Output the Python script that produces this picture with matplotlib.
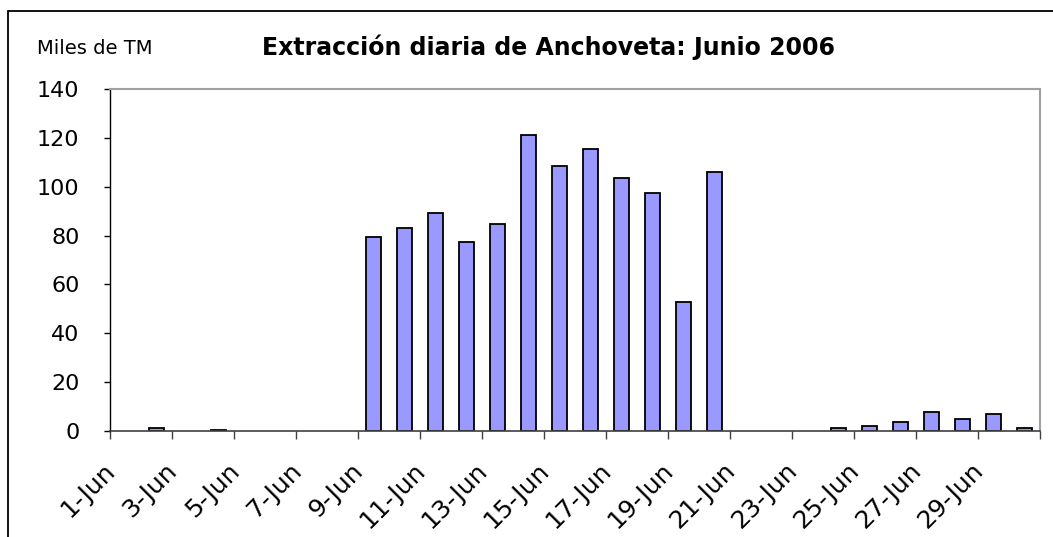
import matplotlib
matplotlib.use("Agg")
import matplotlib.pyplot as plt
from matplotlib.patches import Rectangle
from matplotlib.transforms import ScaledTranslation, blended_transform_factory

plt.rcParams['font.family'] = ['DejaVu Sans']

days = [f"{d}-Jun" for d in range(1, 31)]
values = [0, 1.4, 0, 0.6, 0, 0, 0, 0,
          79.5, 82.9, 89.1, 77.2, 84.8, 121.2, 108.5, 115.6, 103.7, 97.4, 52.9, 105.9,
          0, 0, 0, 1.4, 2.2, 3.6, 7.7, 4.8, 6.9, 1.4]
yticks = [0, 20, 40, 60, 80, 100, 120, 140]
title = "Extracción diaria de Anchoveta: Junio 2006"
ylabel = "Miles de TM"

fig = plt.figure(figsize=(10.53, 5.37), dpi=100)
ax = fig.add_axes([110/1053, 1-431/537, (1040-110)/1053, (431-89)/537])

x = list(range(1, len(days) + 1))
edges = ['black' if v > 0 else 'none' for v in values]
ax.bar(x, values, width=0.47, color='#9999FF', edgecolor=edges, linewidth=1.3, zorder=3)

ax.set_xlim(0.5, len(days) + 0.5)
ax.set_ylim(0, 140)
ax.set_yticks(yticks)
ax.set_yticklabels([str(v) for v in yticks], fontsize=16)

tick_pos = [i + 0.5 for i in range(0, len(days) + 1, 2)]
tick_lab = days[::2] + ['']
ax.set_xticks(tick_pos)
ax.set_xticklabels([''] * len(tick_pos))

base = blended_transform_factory(ax.transData, ax.transAxes)
offset = ScaledTranslation(-5/72, -20/72, fig.dpi_scale_trans)
for p, lab in zip(tick_pos, tick_lab):
    ax.text(p, 0, lab, transform=base + offset, fontsize=18, rotation=45,
            ha='right', va='top', rotation_mode='anchor', clip_on=False)

ax.tick_params(axis='y', direction='out', length=4.5, width=1, color='black', pad=17.5)
ax.tick_params(axis='x', direction='out', length=6, width=1, color='#404040')

for s in ['top', 'right']:
    ax.spines[s].set_color('#A0A0A0')
    ax.spines[s].set_linewidth(1.5)
ax.spines['left'].set_color('black')
ax.spines['left'].set_linewidth(1)
ax.spines['bottom'].set_color('#404040')
ax.spines['bottom'].set_linewidth(1.2)
ax.spines['bottom'].set_zorder(4)

fig.text(548/1053, 1-47/537, title, fontsize=17, fontweight='bold', ha='center', va='center')
fig.text(37/1053, 1-48/537, ylabel, fontsize=14, ha='left', va='center')

frame = Rectangle((8/1053, -0.1), 1.2, 1.1 - 11/537, transform=fig.transFigure,
                  fill=False, edgecolor='black', linewidth=1.3, clip_on=False)
fig.patches.append(frame)

fig.savefig("out.png", dpi=100)
